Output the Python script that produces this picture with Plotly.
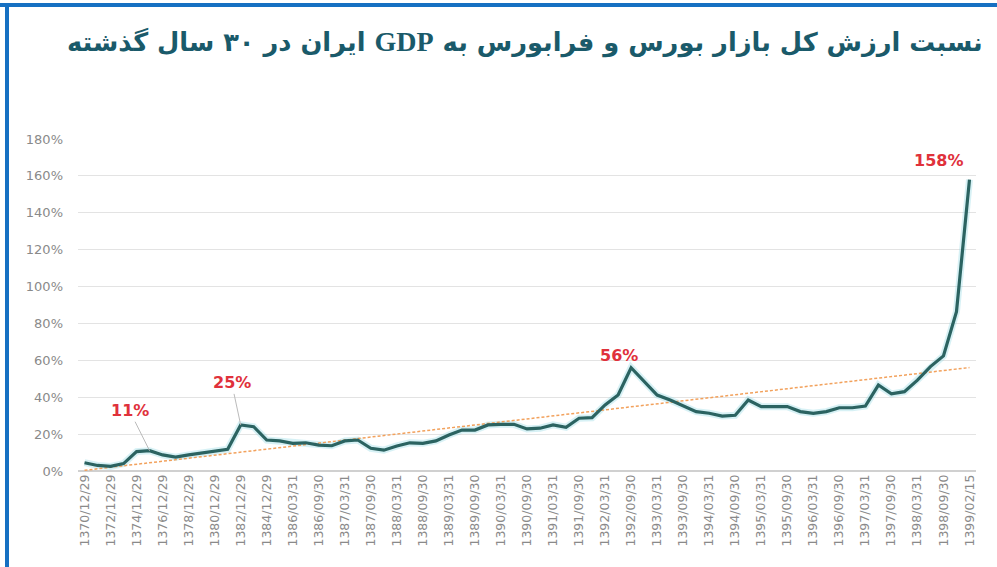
import numpy as np
import plotly.graph_objects as go

# ---- data ----
annual = [f"{y}/12/29" for y in range(1370, 1386)]
quarterly = []
for y in range(1386, 1399):
    quarterly += [f"{y}/03/31", f"{y}/06/31", f"{y}/09/30", f"{y}/12/29"]
categories = annual + quarterly + ["1399/02/15"]

ratio_pct = [4.5, 3, 2.5, 4, 10.5, 11, 8.7, 7.5, 8.7, 9.6, 10.8, 11.8, 25, 24,
             16.8, 16.3, 15, 15.3, 14, 13.7, 16.3, 16.8, 12.3, 11.3, 13.6, 15.3,
             15, 16.3, 19.5, 22.2, 22.2, 25, 25.3, 25.3, 22.8, 23.2, 25, 23.7,
             28.6, 28.9, 35.8, 41.2, 56, 48.4, 41.2, 38.5, 35.5, 32.2, 31.3, 29.8,
             30.2, 38.5, 34.9, 34.9, 34.9, 32.2, 31.3, 32.2, 34.3, 34.3, 35.2,
             46.6, 41.8, 43, 49.3, 56.6, 62.4, 86.4, 158]

y_ticks = [0, 20, 40, 60, 80, 100, 120, 140, 160, 180]
y_tick_text = [f"{v}%" for v in y_ticks]

highlights = [("1375/12/29", 11, "11%"), ("1382/12/29", 25, "25%"),
              ("1392/09/30", 56, "56%"), ("1399/02/15", 158, "158%")]

title_text = "نسبت ارزش کل بازار بورس و فرابورس به GDP ایران در ۳۰ سال گذشته"

# linear trend fitted on the data
idx = np.arange(len(ratio_pct))
coef = np.polyfit(idx, ratio_pct, 1)
trend = np.polyval(coef, idx)

W, H = 997, 567
L, R, T, B = 78, 21, 139, 96
pw, ph = W - L - R, H - T - B


def px_x(x):
    return (x - L) / pw


def px_y(y):
    return (H - B - y) / ph


fig = go.Figure()
fig.add_trace(go.Scatter(x=categories, y=ratio_pct, mode="lines",
                         line=dict(color="rgba(140,215,225,0.35)", width=7),
                         hoverinfo="skip", showlegend=False))
fig.add_trace(go.Scatter(x=categories, y=trend, mode="lines",
                         line=dict(color="#f2a15c", width=1.5, dash="3px,2px"),
                         showlegend=False))
fig.add_trace(go.Scatter(x=categories, y=ratio_pct, mode="lines",
                         line=dict(color="#2b6361", width=3.2),
                         showlegend=False))

red = "#e0313b"
ann_font = dict(family="DejaVu Sans", size=16, color=red)
fig.add_annotation(x=highlights[0][0], y=highlights[0][1], text=f"<b>{highlights[0][2]}</b>",
                   showarrow=True, arrowhead=0, arrowwidth=1, arrowcolor="#bbbbbb",
                   ax=-20, ay=-40, font=ann_font)
fig.add_annotation(x=highlights[1][0], y=highlights[1][1], text=f"<b>{highlights[1][2]}</b>",
                   showarrow=True, arrowhead=0, arrowwidth=1, arrowcolor="#bbbbbb",
                   ax=-9, ay=-42, font=ann_font)
fig.add_annotation(x=highlights[2][0], y=highlights[2][1], text=f"<b>{highlights[2][2]}</b>",
                   showarrow=False, xshift=-12, yshift=12, font=ann_font)
fig.add_annotation(x=highlights[3][0], y=highlights[3][1], text=f"<b>{highlights[3][2]}</b>",
                   showarrow=False, xshift=-31, yshift=19, font=ann_font)

# title (RTL)
fig.add_annotation(
    xref="paper", yref="paper", x=px_x(525), y=px_y(42), xanchor="center", yanchor="middle",
    text="\u202b<b>" + title_text.replace(
        "GDP", "<span style='font-family:Liberation Serif;font-size:28px'>GDP</span>") + "</b>\u202c",
    showarrow=False, font=dict(family="DejaVu Sans", size=25.7, color="#1a5a6a"),
)

fig.update_layout(
    width=W, height=H,
    margin=dict(l=L, r=R, t=T, b=B),
    paper_bgcolor="white", plot_bgcolor="white",
    showlegend=False,
    xaxis=dict(type="category", tickmode="array", tickvals=categories[::2],
               ticktext=categories[::2], tickangle=-90,
               tickfont=dict(family="DejaVu Sans", size=12.5, color="#8a8a8a"),
               showgrid=False, showline=False, ticks="", range=[-0.5, len(categories) - 0.5]),
    yaxis=dict(range=[0, 180], tickvals=y_ticks, ticktext=y_tick_text,
               tickfont=dict(family="DejaVu Sans", size=13, color="#8a8a8a"),
               gridcolor="#e3e3e3", gridwidth=1, zeroline=True, zerolinecolor="#d0d0d0",
               showline=False, ticks="", ticklabelstandoff=14),
)

# blue frame (top and left)
fig.add_shape(type="line", xref="paper", yref="paper", x0=px_x(0), x1=px_x(W),
              y0=px_y(5), y1=px_y(5), line=dict(color="#1670c2", width=4))
fig.add_shape(type="line", xref="paper", yref="paper", x0=px_x(7), x1=px_x(7),
              y0=px_y(3), y1=px_y(H), line=dict(color="#1670c2", width=4))
fig.write_html("out.html")
